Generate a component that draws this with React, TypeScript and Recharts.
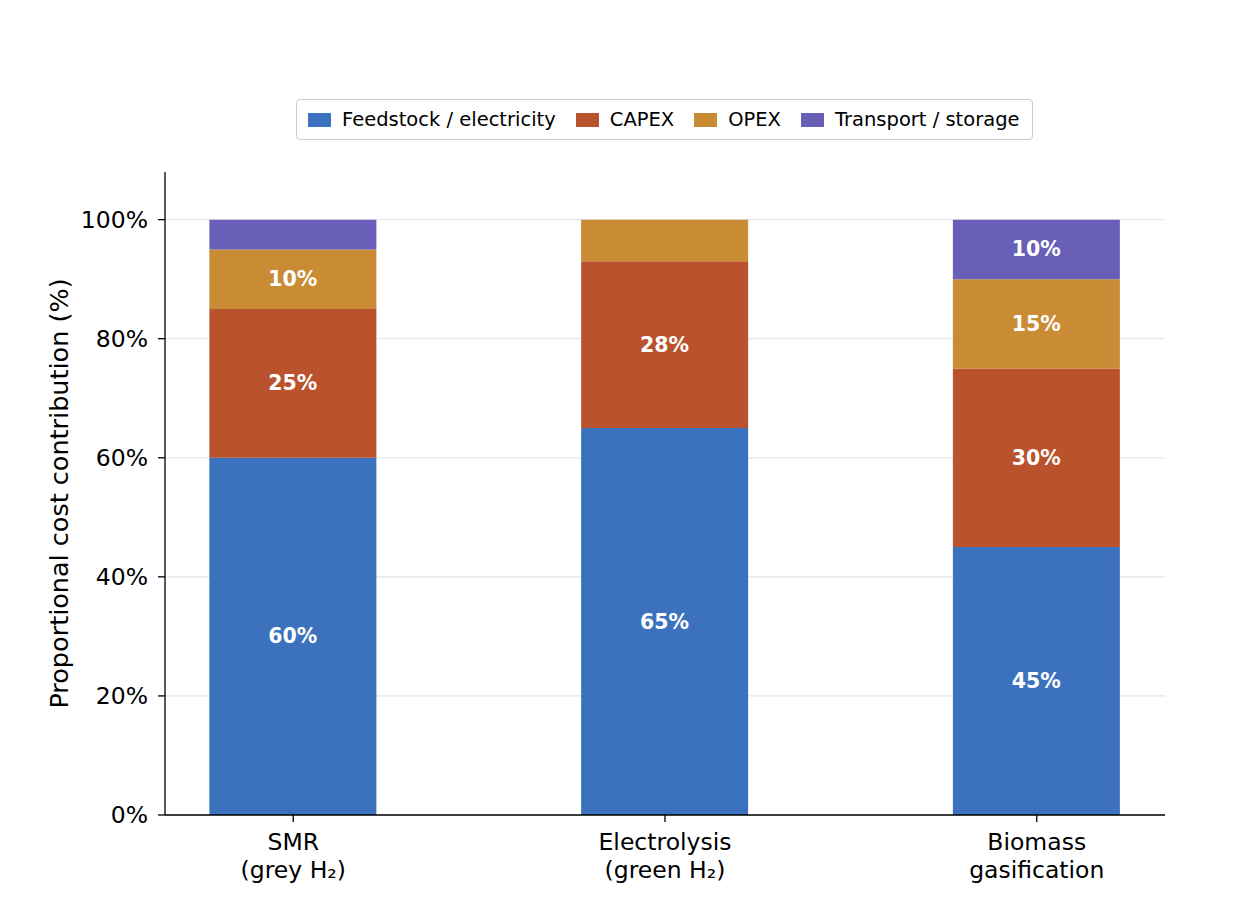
import { Bar, BarChart, CartesianGrid, Label, LabelList, Legend, XAxis, YAxis } from "recharts";

const FONT = "DejaVu Sans";

const categories = ["SMR\n(grey H₂)", "Electrolysis\n(green H₂)", "Biomass\ngasification"];
const feedstock = [60, 65, 45];
const capex = [25, 28, 30];
const opex = [10, 7, 15];
const transport = [5, 0, 10];
const yTicks = [0, 20, 40, 60, 80, 100];

const SERIES = [
  { key: "feedstock", name: "Feedstock / electricity", color: "#3b71bd" },
  { key: "capex", name: "CAPEX", color: "#ba522d" },
  { key: "opex", name: "OPEX", color: "#c98b33" },
  { key: "transport", name: "Transport / storage", color: "#6a5fb8" },
];

const data = categories.map((c, i) => ({
  x: i,
  feedstock: feedstock[i],
  capex: capex[i],
  opex: opex[i],
  transport: transport[i],
}));

function SegmentLabel(props: any) {
  const { x, y, width, height, value } = props;
  if (value == null || value < 10) return null;
  return (
    <text
      x={x + width / 2}
      y={y + height / 2}
      textAnchor="middle"
      dominantBaseline="central"
      fill="#ffffff"
      fontFamily={FONT}
      fontWeight="bold"
      fontSize={20.5}
    >
      {value}%
    </text>
  );
}

function CategoryTick(props: any) {
  const { x, y, payload } = props;
  const lines = (categories[payload.value] ?? "").split("\n");
  return (
    <text x={x} y={y} textAnchor="middle" fontFamily={FONT} fontSize={23.5} fill="#000">
      {lines.map((l, i) => (
        <tspan key={i} x={x} dy={i === 0 ? 26 : 28}>
          {l}
        </tspan>
      ))}
    </text>
  );
}

function LegendBox() {
  return (
    <div
      style={{
        display: "flex",
        alignItems: "center",
        border: "1.5px solid #cccccc",
        borderRadius: 4,
        height: 41,
        width: 737,
        padding: "0 11px",
        fontFamily: FONT,
        fontSize: 19.5,
        color: "#000",
        boxSizing: "border-box",
        background: "#fff",
        whiteSpace: "nowrap",
      }}
    >
      {SERIES.map((s, i) => (
        <div key={s.key} style={{ display: "flex", alignItems: "center", marginLeft: i === 0 ? 0 : 20 }}>
          <span style={{ width: 23, height: 14, background: s.color, marginRight: 11, display: "inline-block" }} />
          <span>{s.name}</span>
        </div>
      ))}
    </div>
  );
}

export default function App() {
  return (
    <div style={{ position: "absolute", left: 0, top: 0, width: 1234, height: 916, background: "#fff" }}>
      <BarChart
        width={1234}
        height={916}
        data={data}
        margin={{ top: 131, right: 69, bottom: 41, left: 55 }}
      >
        <CartesianGrid
          horizontal
          vertical={false}
          horizontalValues={yTicks}
          stroke="#e6e6e6"
          strokeWidth={1.2}
        />
        <XAxis
          dataKey="x"
          type="number"
          domain={[-0.345, 2.345]}
          ticks={[0, 1, 2]}
          allowDataOverflow
          height={60}
          stroke="#000"
          strokeWidth={1.3}
          tickSize={7}
          tick={<CategoryTick />}
        />
        <YAxis
          type="number"
          domain={[0, 108]}
          ticks={yTicks}
          allowDataOverflow
          width={110}
          stroke="#000"
          strokeWidth={1.3}
          tickSize={7}
          tickMargin={10}
          tickFormatter={(v: number) => `${v}%`}
          tick={{ fontFamily: FONT, fontSize: 23.5, fill: "#000" }}
        >
          <Label
            content={(p: any) => {
              const vb = p.viewBox;
              const cy = vb.y + vb.height / 2;
              return (
                <text
                  x={59}
                  y={cy}
                  transform={`rotate(-90 59 ${cy})`}
                  textAnchor="middle"
                  dominantBaseline="central"
                  fontFamily={FONT}
                  fontSize={25.5}
                  fill="#000"
                >
                  Proportional cost contribution (%)
                </text>
              );
            }}
          />
        </YAxis>
        <Legend
          verticalAlign="top"
          content={() => <LegendBox />}
          wrapperStyle={{ top: 99, left: 296, width: 737 }}
        />
        {SERIES.map((s) => (
          <Bar
            key={s.key}
            dataKey={s.key}
            name={s.name}
            stackId="a"
            fill={s.color}
            barSize={167}
            isAnimationActive={false}
          >
            <LabelList dataKey={s.key} content={<SegmentLabel />} />
          </Bar>
        ))}
      </BarChart>
    </div>
  );
}
